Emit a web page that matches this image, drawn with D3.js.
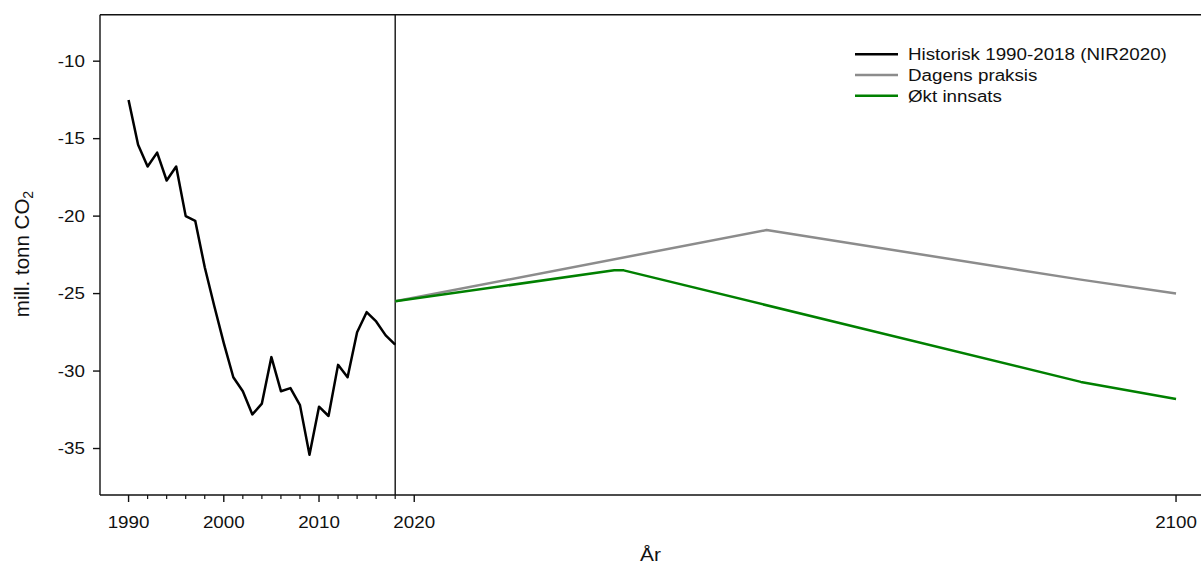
<!DOCTYPE html>
<html>
<head>
<meta charset="utf-8">
<script src="https://cdn.jsdelivr.net/npm/d3@7"></script>
<style>
  html, body { margin: 0; padding: 0; background: #fff; }
  svg { display: block; }
  text { font-family: "Liberation Sans", Arial, sans-serif; fill: #111; }
</style>
</head>
<body>
<svg id="chart" width="1201" height="566"></svg>
<script>
// ---- data ----
const histYears = [1990,1991,1992,1993,1994,1995,1996,1997,1998,1999,2000,2001,2002,2003,2004,2005,2006,2007,2008,2009,2010,2011,2012,2013,2014,2015,2016,2017,2018];
const histValues = [-12.5,-15.4,-16.8,-15.9,-17.7,-16.8,-20.0,-20.3,-23.3,-25.8,-28.2,-30.4,-31.3,-32.8,-32.1,-29.1,-31.3,-31.1,-32.2,-35.4,-32.3,-32.9,-29.6,-30.4,-27.5,-26.2,-26.8,-27.7,-28.3];
const dagensYears = [2018, 2057, 2090, 2100];
const dagensValues = [-25.5, -20.9, -24.1, -25.0];
const oktYears = [2018, 2041, 2042, 2090, 2100];
const oktValues = [-25.5, -23.5, -23.5, -30.7, -31.8];
const xMajorTicks = [1990, 2000, 2010, 2020, 2100];
const xMinorTicks = [1992,1994,1996,1998,2002,2004,2006,2008,2012,2014,2016,2018];
const yTicks = [-10, -15, -20, -25, -30, -35];
const seriesNames = ["Historisk 1990-2018 (NIR2020)", "Dagens praksis", "Økt innsats"];
const seriesColors = ["#000000", "#8c8c8c", "#008000"];
const splitYear = 2018;

// ---- layout ----
const svg = d3.select("#chart");
const pLeft = 100, pTop = 14.7, pBottom = 495;
const x = d3.scaleLinear().domain([1987, 2103]).range([pLeft, 1204.6]);
const y = d3.scaleLinear().domain([-38, -7]).range([pBottom, pTop]);
const SX = 1.16; // horizontal stretch of the reference's text

function stext(g, px, py, str, size, anchor) {
  return g.append("text")
    .attr("transform", `translate(${px},${py}) scale(${SX},1)`)
    .attr("text-anchor", anchor)
    .attr("font-size", size)
    .text(str);
}

// frame lines: left, top, bottom
const frame = svg.append("g").attr("stroke", "#111").attr("stroke-width", 1.4);
frame.append("line").attr("x1", pLeft).attr("x2", pLeft).attr("y1", pTop).attr("y2", pBottom);
frame.append("line").attr("x1", pLeft).attr("x2", 1201).attr("y1", pTop).attr("y2", pTop);
frame.append("line").attr("x1", pLeft).attr("x2", 1201).attr("y1", pBottom).attr("y2", pBottom);

// y axis ticks + labels
const ya = svg.append("g");
yTicks.forEach(v => {
  ya.append("line").attr("x1", pLeft - 7).attr("x2", pLeft).attr("y1", y(v)).attr("y2", y(v))
    .attr("stroke", "#111").attr("stroke-width", 1.4);
  stext(ya, 85, y(v) + 5.8, String(v), 16.2, "end");
});

// x axis ticks + labels
const xa = svg.append("g");
xMajorTicks.forEach(v => {
  xa.append("line").attr("x1", x(v)).attr("x2", x(v)).attr("y1", pBottom).attr("y2", pBottom + 7)
    .attr("stroke", "#111").attr("stroke-width", 1.4);
  stext(xa, x(v), 527.5, String(v), 16.2, "middle");
});
xMinorTicks.forEach(v => {
  xa.append("line").attr("x1", x(v)).attr("x2", x(v)).attr("y1", pBottom).attr("y2", pBottom + 4)
    .attr("stroke", "#111").attr("stroke-width", 1.2);
});

// axis titles
stext(svg, (pLeft + 1201) / 2, 561, "År", 18, "middle");
const yl = svg.append("text")
  .attr("transform", `translate(29,254) rotate(-90)`)
  .attr("text-anchor", "middle")
  .attr("font-size", 20.5);
yl.append("tspan").text("mill. tonn CO");
yl.append("tspan").attr("font-size", 14).attr("dy", 4).text("2");

// vertical separator at 2018
svg.append("line").attr("x1", x(splitYear)).attr("x2", x(splitYear)).attr("y1", pTop).attr("y2", pBottom)
  .attr("stroke", "#111").attr("stroke-width", 1.4);

// lines
const line = d3.line().x(d => x(d[0])).y(d => y(d[1]));
const series = [
  d3.zip(histYears, histValues),
  d3.zip(dagensYears, dagensValues),
  d3.zip(oktYears, oktValues)
];
[1, 2, 0].forEach(i => {
  svg.append("path").datum(series[i]).attr("d", line)
    .attr("fill", "none").attr("stroke", seriesColors[i])
    .attr("stroke-width", 2.5).attr("stroke-linejoin", "round");
});

// legend
const lg = svg.append("g");
seriesNames.forEach((name, i) => {
  const ly = 54.3 + i * 20.7;
  lg.append("line").attr("x1", 855).attr("x2", 898).attr("y1", ly).attr("y2", ly)
    .attr("stroke", seriesColors[i]).attr("stroke-width", 2.4);
  stext(lg, 908, ly + 5.8, name, 16.2, "start");
});
</script>
</body>
</html>
